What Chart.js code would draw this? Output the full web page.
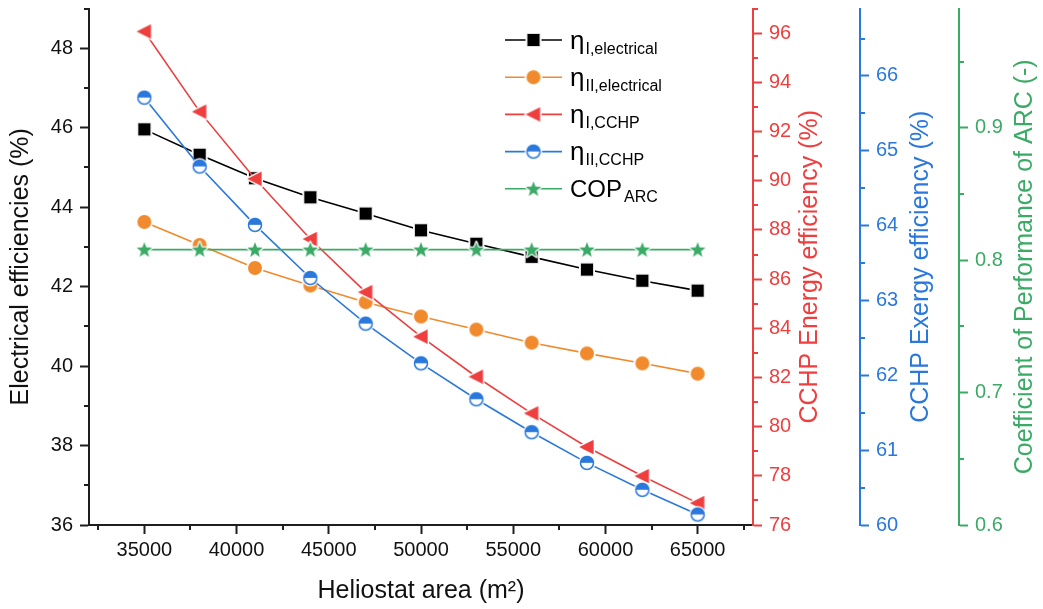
<!DOCTYPE html>
<html>
<head>
<meta charset="utf-8">
<script src="https://cdn.jsdelivr.net/npm/chart.js@4.4.1/dist/chart.umd.min.js"></script>
<style>
  html, body { margin: 0; padding: 0; background: #ffffff; }
  #wrap { width: 1043px; height: 609px; }
</style>
</head>
<body>
<div id="wrap"><canvas id="chart" width="1043" height="609"></canvas></div>
<script>
// Heliostat field size (m²)
const heliostatArea = [35000, 38000, 41000, 44000, 47000, 50000, 53000, 56000, 59000, 62000, 65000];

// Electrical efficiencies (%), left axis
const etaElectricalI  = [45.96, 45.32, 44.73, 44.25, 43.84, 43.42, 43.08, 42.75, 42.43, 42.15, 41.90];
const etaElectricalII = [43.63, 43.05, 42.47, 42.03, 41.61, 41.25, 40.92, 40.59, 40.32, 40.07, 39.81];

// CCHP energy efficiency (%), first right axis
const etaCchpI  = [96.07, 92.81, 90.08, 87.63, 85.47, 83.66, 82.03, 80.54, 79.17, 77.99, 76.89];
// CCHP exergy efficiency (%), second right axis
const etaCchpII = [65.71, 64.79, 64.01, 63.30, 62.69, 62.16, 61.68, 61.24, 60.83, 60.47, 60.14];
// Coefficient of performance of the absorption refrigeration cycle (-)
const copArc    = [0.808, 0.808, 0.808, 0.808, 0.808, 0.808, 0.808, 0.808, 0.808, 0.808, 0.808];

// Series key text: main symbol + subscript
const seriesSymbols    = ['η', 'η', 'η', 'η', 'COP'];
const seriesSubscripts = ['I,electrical', 'II,electrical', 'I,CCHP', 'II,CCHP', 'ARC'];

// Major tick values
const areaTicks     = [35000, 40000, 45000, 50000, 55000, 60000, 65000];
const electricTicks = [36, 38, 40, 42, 44, 46, 48];
const energyTicks   = [76, 78, 80, 82, 84, 86, 88, 90, 92, 94, 96];
const exergyTicks   = [60, 61, 62, 63, 64, 65, 66];
const copTicks      = [0.6, 0.7, 0.8, 0.9];

// Minor tick values
const areaMinor     = [32500, 37500, 42500, 47500, 52500, 57500, 62500, 67500];
const electricMinor = [37, 39, 41, 43, 45, 47, 49];
const energyMinor   = [77, 79, 81, 83, 85, 87, 89, 91, 93, 95, 97];
const exergyMinor   = [60.5, 61.5, 62.5, 63.5, 64.5, 65.5, 66.5];
const copMinor      = [0.65, 0.75, 0.85, 0.95];

const FONT = "'Liberation Sans', Arial, Helvetica, sans-serif";
const C_BLACK  = '#000000';
const C_AXIS   = '#1e1e1e';
const C_ORANGE = '#F08A2C';
const C_RED    = '#EE3E3E';
const C_BLUE   = '#2A78DC';
const C_GREEN  = '#3AAA66';

// ---- marker sprites (with a thin white halo so lines stop short of the symbol)
function sprite(draw, size) {
  const c = document.createElement('canvas');
  c.width = size; c.height = size;
  const g = c.getContext('2d');
  g.translate(size / 2, size / 2);
  draw(g);
  return c;
}
const squareMark = sprite(g => {
  g.fillStyle = '#ffffff'; g.fillRect(-8, -8, 16, 16);
  g.fillStyle = '#d0d0d0'; g.fillRect(-6.7, -6.7, 13.4, 13.4);
  g.fillStyle = C_BLACK;  g.fillRect(-6, -6, 12, 12);
}, 22);
const circleMark = sprite(g => {
  g.fillStyle = '#ffffff'; g.beginPath(); g.arc(0, 0, 8.8, 0, Math.PI * 2); g.fill();
  g.fillStyle = C_ORANGE;  g.beginPath(); g.arc(0, 0, 7, 0, Math.PI * 2); g.fill();
}, 22);
const triangleMark = sprite(g => {
  g.beginPath();
  g.moveTo(-7.8, 0); g.lineTo(6.6, -7.2); g.lineTo(6.6, 7.2); g.closePath();
  g.lineJoin = 'round';
  g.strokeStyle = '#ffffff'; g.lineWidth = 3; g.stroke();
  g.fillStyle = C_RED; g.fill();
}, 24);
const halfMark = sprite(g => {
  g.fillStyle = '#ffffff'; g.beginPath(); g.arc(0, 0, 8.6, 0, Math.PI * 2); g.fill();
  g.fillStyle = C_BLUE; g.beginPath(); g.arc(0, 0, 6.5, Math.PI, 0); g.closePath(); g.fill();
  g.strokeStyle = '#ffffff'; g.lineWidth = 1; g.beginPath(); g.moveTo(-6.5, 0.4); g.lineTo(6.5, 0.4); g.stroke();
  g.strokeStyle = C_BLUE; g.lineWidth = 1.5; g.beginPath(); g.arc(0, 0, 6.5, 0, Math.PI * 2); g.stroke();
}, 22);
const starMark = sprite(g => {
  g.beginPath();
  for (let i = 0; i < 10; i++) {
    const r = i % 2 === 0 ? 8.2 : 3.4;
    const a = -Math.PI / 2 + i * Math.PI / 5;
    const px = r * Math.cos(a), py = r * Math.sin(a) + 0.6;
    if (i === 0) g.moveTo(px, py); else g.lineTo(px, py);
  }
  g.closePath();
  g.lineJoin = 'round';
  g.strokeStyle = '#ffffff'; g.lineWidth = 2.5; g.stroke();
  g.fillStyle = C_GREEN; g.fill();
}, 22);

const pairs = ys => heliostatArea.map((x, i) => ({ x: x, y: ys[i] }));

// fixed axis box sizes so the plot frame lands where it should
function fixedBox(size, horizontal) {
  return s => {
    if (horizontal) s.height = size; else s.width = size;
    s.paddingTop = 0; s.paddingBottom = 0; s.paddingLeft = 0; s.paddingRight = 0;
  };
}
const setTicks = values => s => { s.ticks = values.map(v => ({ value: v })); };

function axisStyle(color) {
  return {
    grid: { drawOnChartArea: false, drawTicks: true, tickLength: 9, tickWidth: 2, tickColor: color },
    border: { display: true, color: color, width: 2 }
  };
}

// minor ticks drawn on each scale
const minorTickPlugin = {
  id: 'minorTicks',
  afterDraw(chart, args, opts) {
    const ctx = chart.ctx;
    opts.sets.forEach(set => {
      const s = chart.scales[set.axis];
      ctx.save();
      ctx.strokeStyle = set.color;
      ctx.lineWidth = 2;
      ctx.beginPath();
      set.values.forEach(v => {
        const p = Math.round(s.getPixelForValue(v));
        if (s.isHorizontal()) {
          ctx.moveTo(p, s.top); ctx.lineTo(p, s.top + 5);
        } else if (s.position === 'left') {
          ctx.moveTo(s.right, p); ctx.lineTo(s.right - 5, p);
        } else {
          ctx.moveTo(s.left, p); ctx.lineTo(s.left + 5, p);
        }
      });
      ctx.stroke();
      ctx.restore();
    });
  }
};

// titles of the right-hand axes, reading bottom to top
const sideTitlePlugin = {
  id: 'sideTitles',
  afterDraw(chart, args, opts) {
    const ctx = chart.ctx;
    const area = chart.chartArea;
    opts.titles.forEach(t => {
      const s = chart.scales[t.axis];
      ctx.save();
      ctx.translate(s.left + t.offset, (area.top + area.bottom) / 2);
      ctx.rotate(-Math.PI / 2);
      ctx.font = `25px ${FONT}`;
      ctx.fillStyle = t.color;
      ctx.textAlign = 'center';
      ctx.textBaseline = 'middle';
      ctx.fillText(t.text, 0, 0);
      ctx.restore();
    });
  }
};

// series key with subscripted names
const seriesKeyPlugin = {
  id: 'seriesKey',
  afterDraw(chart, args, opts) {
    const ctx = chart.ctx;
    chart.data.datasets.forEach((ds, i) => {
      const y = opts.top + i * opts.rowGap;
      ctx.save();
      ctx.strokeStyle = ds.borderColor;
      ctx.lineWidth = 1.6;
      ctx.beginPath();
      ctx.moveTo(opts.left, y);
      ctx.lineTo(opts.left + opts.lineLength, y);
      ctx.stroke();
      const m = ds.pointStyle;
      ctx.drawImage(m, opts.left + opts.lineLength / 2 - m.width / 2, y - m.height / 2);
      ctx.fillStyle = '#000000';
      ctx.textAlign = 'left';
      ctx.textBaseline = 'alphabetic';
      const tx = opts.left + opts.lineLength + opts.textGap;
      const main = seriesSymbols[i];
      ctx.font = `${main === 'η' ? 26 : 24}px ${FONT}`;
      ctx.fillText(main, tx, y + 8.5);
      const w = ctx.measureText(main).width;
      ctx.font = `16px ${FONT}`;
      ctx.fillText(seriesSubscripts[i], tx + w + (main === 'η' ? 1 : 2), y + 13.5);
      ctx.restore();
    });
  }
};

const lineDefaults = {
  borderWidth: 1.6,
  tension: 0,
  fill: false,
  pointRadius: 7,
  pointHoverRadius: 7
};

new Chart(document.getElementById('chart'), {
  type: 'line',
  data: {
    datasets: [
      Object.assign({ label: 'ηI,electrical', data: pairs(etaElectricalI), yAxisID: 'y',
        borderColor: C_BLACK, backgroundColor: C_BLACK, pointStyle: squareMark, order: 5 }, lineDefaults),
      Object.assign({ label: 'ηII,electrical', data: pairs(etaElectricalII), yAxisID: 'y',
        borderColor: C_ORANGE, backgroundColor: C_ORANGE, pointStyle: circleMark, order: 4 }, lineDefaults),
      Object.assign({ label: 'ηI,CCHP', data: pairs(etaCchpI), yAxisID: 'yRed',
        borderColor: C_RED, backgroundColor: C_RED, pointStyle: triangleMark, order: 3 }, lineDefaults),
      Object.assign({ label: 'ηII,CCHP', data: pairs(etaCchpII), yAxisID: 'yBlue',
        borderColor: C_BLUE, backgroundColor: C_BLUE, pointStyle: halfMark, order: 2 }, lineDefaults),
      Object.assign({ label: 'COPARC', data: pairs(copArc), yAxisID: 'yCop',
        borderColor: C_GREEN, backgroundColor: C_GREEN, pointStyle: starMark, order: 1 }, lineDefaults)
    ]
  },
  options: {
    responsive: false,
    animation: false,
    events: [],
    layout: { padding: { top: 5, left: 0, right: 0, bottom: 0 } },
    scales: {
      x: Object.assign({
        type: 'linear', position: 'bottom', min: 32000, max: 68000,
        afterBuildTicks: setTicks(areaTicks),
        afterFit: fixedBox(84, true),
        ticks: { color: '#111111', font: { family: FONT, size: 20 }, padding: 4,
                 maxRotation: 0, autoSkip: false, callback: v => String(v) },
        title: { display: true, text: 'Heliostat area (m²)', color: '#111111',
                 font: { family: FONT, size: 25 }, padding: { top: 0, bottom: 3 } }
      }, axisStyle(C_AXIS)),
      y: Object.assign({
        type: 'linear', position: 'left', min: 36, max: 49,
        afterBuildTicks: setTicks(electricTicks),
        afterFit: fixedBox(89, false),
        ticks: { color: '#111111', font: { family: FONT, size: 20 }, padding: 7,
                 autoSkip: false, callback: v => String(v) },
        title: { display: true, text: 'Electrical efficiencies (%)', color: '#111111',
                 font: { family: FONT, size: 25 }, padding: { top: 6, bottom: 0 } }
      }, axisStyle(C_AXIS)),
      yRed: Object.assign({
        type: 'linear', position: 'right', min: 76, max: 97,
        afterBuildTicks: setTicks(energyTicks),
        afterFit: fixedBox(107, false),
        ticks: { color: C_RED, font: { family: FONT, size: 20 }, padding: 7,
                 autoSkip: false, callback: v => String(v) }
      }, axisStyle(C_RED)),
      yBlue: Object.assign({
        type: 'linear', position: 'right', min: 60, max: 66.9,
        afterBuildTicks: setTicks(exergyTicks),
        afterFit: fixedBox(99, false),
        ticks: { color: C_BLUE, font: { family: FONT, size: 20 }, padding: 7,
                 autoSkip: false, callback: v => String(v) }
      }, axisStyle(C_BLUE)),
      yCop: Object.assign({
        type: 'linear', position: 'right', min: 0.6, max: 0.99,
        afterBuildTicks: setTicks(copTicks),
        afterFit: fixedBox(84, false),
        ticks: { color: C_GREEN, font: { family: FONT, size: 20 }, padding: 7,
                 autoSkip: false, callback: v => Number(v).toFixed(1) }
      }, axisStyle(C_GREEN))
    },
    plugins: {
      legend: { display: false },
      tooltip: { enabled: false },
      minorTicks: {
        sets: [
          { axis: 'x', values: areaMinor, color: C_AXIS },
          { axis: 'y', values: electricMinor, color: C_AXIS },
          { axis: 'yRed', values: energyMinor, color: C_RED },
          { axis: 'yBlue', values: exergyMinor, color: C_BLUE },
          { axis: 'yCop', values: copMinor, color: C_GREEN }
        ]
      },
      sideTitles: {
        titles: [
          { axis: 'yRed', text: 'CCHP Energy efficiency (%)', color: C_RED, offset: 57 },
          { axis: 'yBlue', text: 'CCHP Exergy efficiency (%)', color: C_BLUE, offset: 61 },
          { axis: 'yCop', text: 'Coefficient of Performance of ARC (-)', color: C_GREEN, offset: 66 }
        ]
      },
      seriesKey: { left: 505, top: 40, rowGap: 37.2, lineLength: 57, textGap: 8 }
    }
  },
  plugins: [minorTickPlugin, sideTitlePlugin, seriesKeyPlugin]
});
</script>
</body>
</html>
